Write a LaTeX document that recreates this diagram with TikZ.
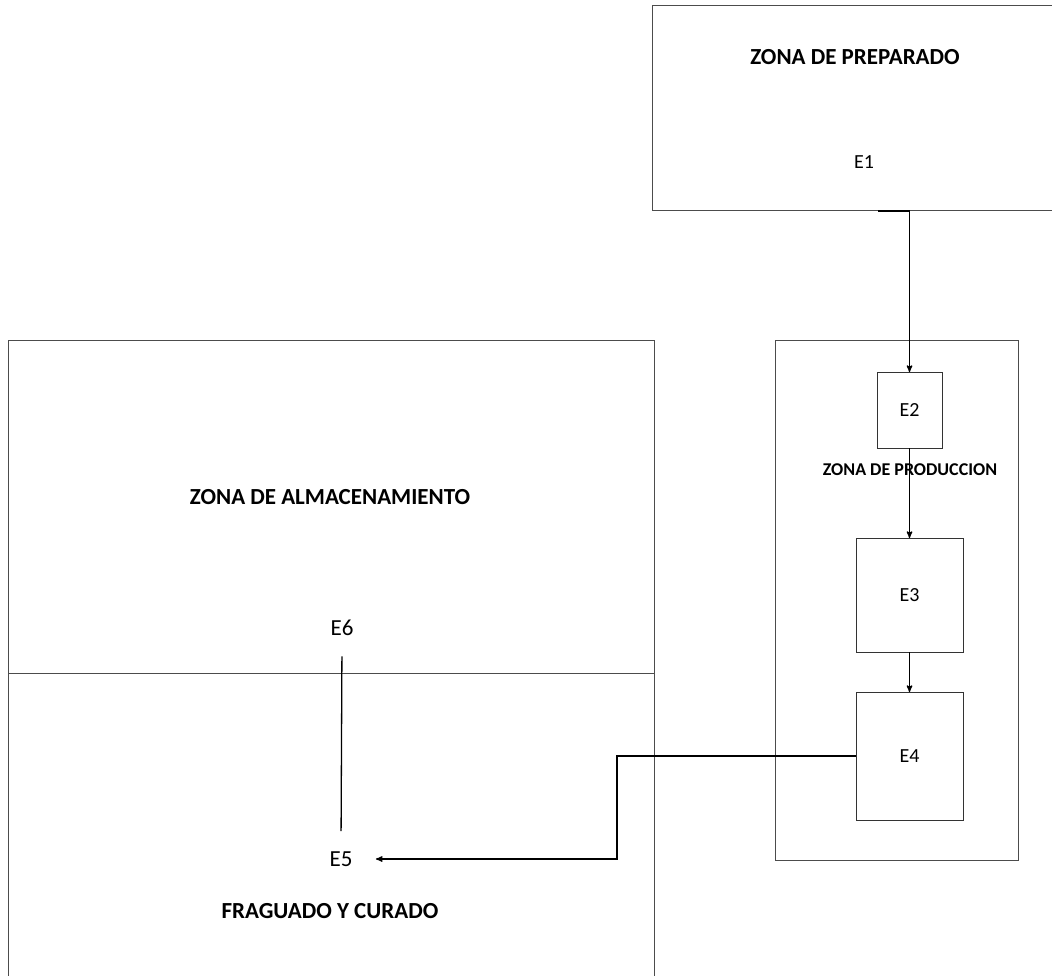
\documentclass[tikz,border=0pt]{standalone}
\usepackage{fontspec}
\setmainfont{Carlito}
\usetikzlibrary{arrows}

\begin{document}
\begin{tikzpicture}[x=1pt,y=-1pt,>=stealth',
  zone/.style={draw=black!70,line width=1pt,inner sep=0pt,outer sep=0pt},
  station box/.style={draw=black!80,line width=1pt,inner sep=0pt,outer sep=0pt,font=\fontsize{20}{24}\selectfont},
  zone title/.style={font=\bfseries\fontsize{23}{27}\selectfont},
  big station/.style={font=\fontsize{23}{27}\selectfont},
  flow/.style={line width=1.3pt}]

  \useasboundingbox (0,0) rectangle (1052,976);
  \clip (0,0) rectangle (1052,976);

  % zonas
  \node[zone,minimum width=452pt,minimum height=205pt] (prep) at (878,108.5) {};
  \node[zone,minimum width=243pt,minimum height=520pt] (prod) at (896.5,600) {};
  \node[zone,minimum width=646pt,minimum height=333pt] (alm) at (331,506.5) {};
  \node[zone,minimum width=646pt,minimum height=320pt] (frag) at (331,833) {};

  \node[zone title] (prep title) at (855,57) {ZONA DE PREPARADO};
  \node[zone title,font=\bfseries\fontsize{18}{22}\selectfont] (prod title) at (910,470) {ZONA DE PRODUCCION};
  \node[zone title] (alm title) at (330,497) {ZONA DE ALMACENAMIENTO};
  \node[zone title] (frag title) at (330,911) {FRAGUADO Y CURADO};

  % estaciones
  \node[font=\fontsize{20}{24}\selectfont] (e1) at (864,162) {E1};
  \node[station box,minimum width=65pt,minimum height=76pt] (e2) at (909.5,410) {E2};
  \node[station box,minimum width=107pt,minimum height=114pt] (e3) at (909.5,595) {E3};
  \node[station box,minimum width=107pt,minimum height=128pt] (e4) at (909.5,756) {E4};
  \node[big station] (e6) at (342,628) {E6};
  \node[big station] (e5) at (341,859) {E5};

  \coordinate (bend) at (617,756);

  \draw[flow,->] (prep.south) -| (e2.north);
  \draw[flow,->] (e2) -- (e3);
  \draw[flow,->] (e3) -- (e4);
  \draw[flow,->,shorten >=20pt] (e4.west) -- (bend) |- (e5.east);
  \draw[flow,shorten <=17pt,shorten >=17pt] (e5.north) -- (e6.south);

\end{tikzpicture}
\end{document}
